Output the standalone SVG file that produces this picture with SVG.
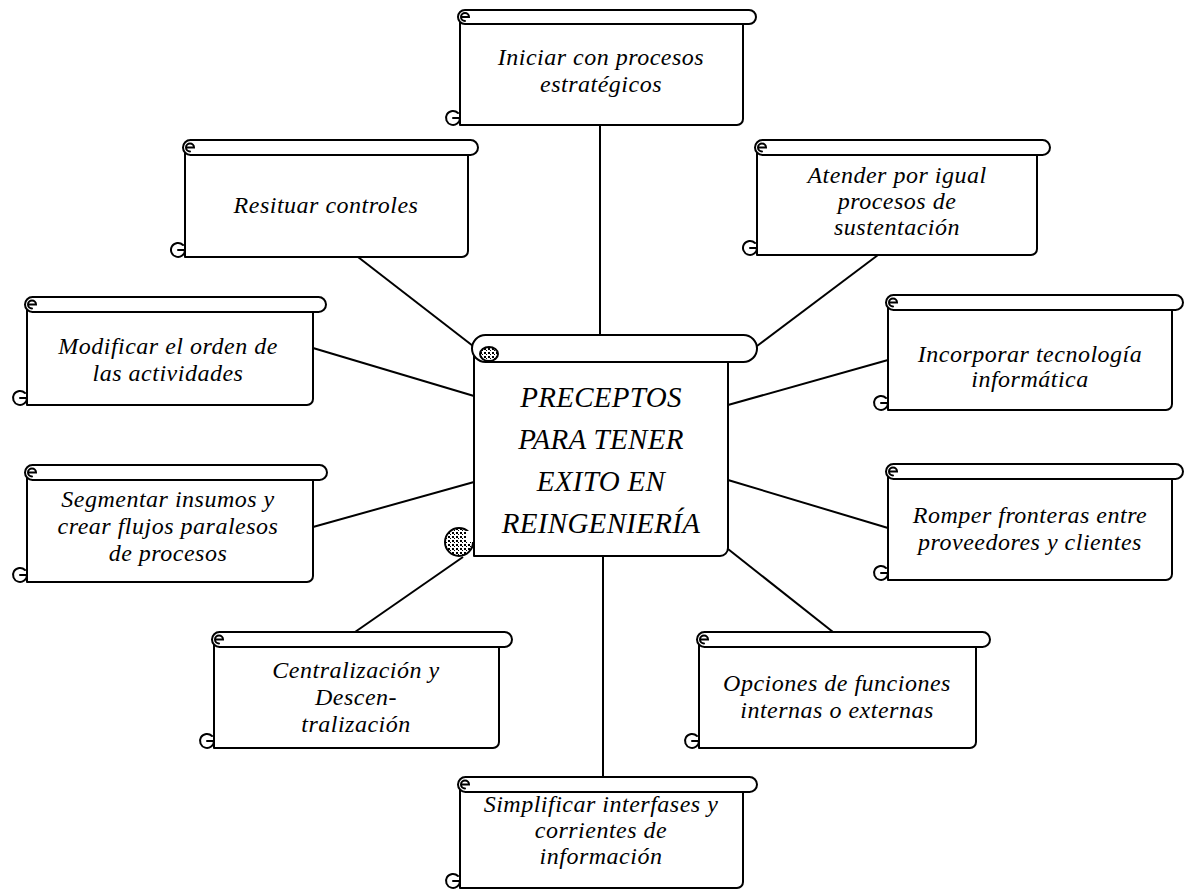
<svg xmlns="http://www.w3.org/2000/svg" width="1184" height="891" viewBox="0 0 1184 891">
  <style>
    .body { fill: #fff; stroke: #000; stroke-width: 2; stroke-linejoin: round; }
    .roll { fill: #fff; stroke: #000; stroke-width: 2; }
    .curl { fill: none; stroke: #000; stroke-width: 2; stroke-linecap: round; }
    .link { fill: none; stroke: #000; stroke-width: 2; }
    .t { font-family: "Liberation Serif", "Times New Roman", serif; font-style: italic; font-size: 24px; letter-spacing: 0.5px; text-anchor: middle; fill: #000; }
    .big { font-size: 29px; letter-spacing: 0.3px; }
  </style>
  <defs>
    <pattern id="dither" width="4" height="4" patternUnits="userSpaceOnUse">
      <rect width="4" height="4" fill="#fff"/>
      <rect x="0" y="0" width="2" height="2" fill="#000"/>
      <rect x="2" y="2" width="1" height="1" fill="#000"/>
    </pattern>
  </defs>
  <rect width="1184" height="891" fill="#fff"/>

  <!-- connectors from the central scroll to each precept -->
  <g id="connectors" class="link">
    <line x1="600" y1="125" x2="600" y2="336"/>
    <line x1="358" y1="257" x2="473" y2="346"/>
    <line x1="878" y1="255" x2="757" y2="346"/>
    <line x1="313" y1="348" x2="474" y2="396"/>
    <line x1="888" y1="360" x2="728" y2="405"/>
    <line x1="313" y1="527" x2="474" y2="482"/>
    <line x1="728" y1="480" x2="888" y2="528"/>
    <line x1="355" y1="632" x2="463" y2="557"/>
    <line x1="728" y1="549" x2="833" y2="632"/>
    <line x1="603" y1="556" x2="603" y2="777"/>
  </g>

  <!-- central scroll -->
  <g id="center">
    <path class="body" d="M474,349 H728 V548 A8,8 0 0,1 720,556 H474 Z"/>
    <rect class="roll" x="472" y="335" width="285" height="27" rx="13.5"/>
    <ellipse cx="489" cy="354" rx="9" ry="7" fill="url(#dither)" stroke="#000" stroke-width="2"/>
    <circle cx="459" cy="542" r="14" fill="url(#dither)" stroke="#000" stroke-width="2"/>
    <path d="M466,531 h7 v11 h-7 Z" fill="#fff"/>
    <text class="t big" x="601" y="407">PRECEPTOS</text>
    <text class="t big" x="601" y="449">PARA TENER</text>
    <text class="t big" x="601" y="491">EXITO EN</text>
    <text class="t big" x="601" y="533">REINGENIERÍA</text>
  </g>

  <!-- Iniciar: L=460 T=10 R=756 BR=743 B=125 -->
  <g id="n-iniciar">
    <path class="body" d="M460,17 H743 V119 A6,6 0 0,1 737,125 H460 Z"/>
    <rect class="roll" x="458" y="10" width="298" height="14" rx="7"/>
    <path class="curl" d="M461,17 H469 A4,4 0 1,0 465,21"/>
    <path class="curl" d="M458,113 A7,7 0 1,0 460,118 H453"/>
    <text class="t" x="601" y="65">Iniciar con procesos</text>
    <text class="t" x="601" y="92">estratégicos</text>
  </g>

  <!-- Resituar -->
  <g id="n-resituar">
    <path class="body" d="M185,147 H468 V251 A6,6 0 0,1 462,257 H185 Z"/>
    <rect class="roll" x="183" y="140" width="295" height="15" rx="7.5"/>
    <path class="curl" d="M186,147.5 H194 A4,4 0 1,0 190,151.5"/>
    <path class="curl" d="M183,245 A7,7 0 1,0 185,250 H178"/>
    <text class="t" x="326" y="213">Resituar controles</text>
  </g>

  <!-- Atender -->
  <g id="n-atender">
    <path class="body" d="M757,147 H1037 V249 A6,6 0 0,1 1031,255 H757 Z"/>
    <rect class="roll" x="755" y="140" width="295" height="15" rx="7.5"/>
    <path class="curl" d="M758,147.5 H766 A4,4 0 1,0 762,151.5"/>
    <path class="curl" d="M755,243 A7,7 0 1,0 757,248 H750"/>
    <text class="t" x="897" y="183">Atender por igual</text>
    <text class="t" x="897" y="209">procesos de</text>
    <text class="t" x="897" y="235">sustentación</text>
  </g>

  <!-- Modificar -->
  <g id="n-modificar">
    <path class="body" d="M27,304 H313 V399 A6,6 0 0,1 307,405 H27 Z"/>
    <rect class="roll" x="25" y="297" width="301" height="15" rx="7.5"/>
    <path class="curl" d="M28,304.5 H36 A4,4 0 1,0 32,308.5"/>
    <path class="curl" d="M25,393 A7,7 0 1,0 27,398 H20"/>
    <text class="t" x="168" y="354">Modificar el orden de</text>
    <text class="t" x="168" y="381">las actividades</text>
  </g>

  <!-- Incorporar -->
  <g id="n-incorporar">
    <path class="body" d="M888,302 H1172 V404 A6,6 0 0,1 1166,410 H888 Z"/>
    <rect class="roll" x="886" y="295" width="297" height="15" rx="7.5"/>
    <path class="curl" d="M889,302.5 H897 A4,4 0 1,0 893,306.5"/>
    <path class="curl" d="M886,398 A7,7 0 1,0 888,403 H881"/>
    <text class="t" x="1030" y="362">Incorporar tecnología</text>
    <text class="t" x="1030" y="387">informática</text>
  </g>

  <!-- Segmentar -->
  <g id="n-segmentar">
    <path class="body" d="M27,472 H313 V576 A6,6 0 0,1 307,582 H27 Z"/>
    <rect class="roll" x="25" y="465" width="302" height="15" rx="7.5"/>
    <path class="curl" d="M28,472.5 H36 A4,4 0 1,0 32,476.5"/>
    <path class="curl" d="M25,570 A7,7 0 1,0 27,575 H20"/>
    <text class="t" x="168" y="507">Segmentar insumos y</text>
    <text class="t" x="168" y="534">crear flujos paralesos</text>
    <text class="t" x="168" y="561">de procesos</text>
  </g>

  <!-- Romper -->
  <g id="n-romper">
    <path class="body" d="M888,471 H1172 V574 A6,6 0 0,1 1166,580 H888 Z"/>
    <rect class="roll" x="886" y="464" width="297" height="15" rx="7.5"/>
    <path class="curl" d="M889,471.5 H897 A4,4 0 1,0 893,475.5"/>
    <path class="curl" d="M886,568 A7,7 0 1,0 888,573 H881"/>
    <text class="t" x="1030" y="523">Romper fronteras entre</text>
    <text class="t" x="1030" y="550">proveedores y clientes</text>
  </g>

  <!-- Centralizacion -->
  <g id="n-centralizacion">
    <path class="body" d="M214,639 H499 V742 A6,6 0 0,1 493,748 H214 Z"/>
    <rect class="roll" x="212" y="632" width="300" height="15" rx="7.5"/>
    <path class="curl" d="M215,639.5 H223 A4,4 0 1,0 219,643.5"/>
    <path class="curl" d="M212,736 A7,7 0 1,0 214,741 H207"/>
    <text class="t" x="356" y="678">Centralización y</text>
    <text class="t" x="356" y="705">Descen-</text>
    <text class="t" x="356" y="732">tralización</text>
  </g>

  <!-- Opciones -->
  <g id="n-opciones">
    <path class="body" d="M699,639 H976 V742 A6,6 0 0,1 970,748 H699 Z"/>
    <rect class="roll" x="697" y="632" width="293" height="15" rx="7.5"/>
    <path class="curl" d="M700,639.5 H708 A4,4 0 1,0 704,643.5"/>
    <path class="curl" d="M697,736 A7,7 0 1,0 699,741 H692"/>
    <text class="t" x="837" y="691">Opciones de funciones</text>
    <text class="t" x="837" y="718">internas o externas</text>
  </g>

  <!-- Simplificar -->
  <g id="n-simplificar">
    <path class="body" d="M460,784 H743 V882 A6,6 0 0,1 737,888 H460 Z"/>
    <rect class="roll" x="458" y="777" width="299" height="15" rx="7.5"/>
    <path class="curl" d="M461,784.5 H469 A4,4 0 1,0 465,788.5"/>
    <path class="curl" d="M458,876 A7,7 0 1,0 460,881 H453"/>
    <text class="t" x="601" y="812">Simplificar interfases y</text>
    <text class="t" x="601" y="838">corrientes de</text>
    <text class="t" x="601" y="864">información</text>
  </g>
</svg>
